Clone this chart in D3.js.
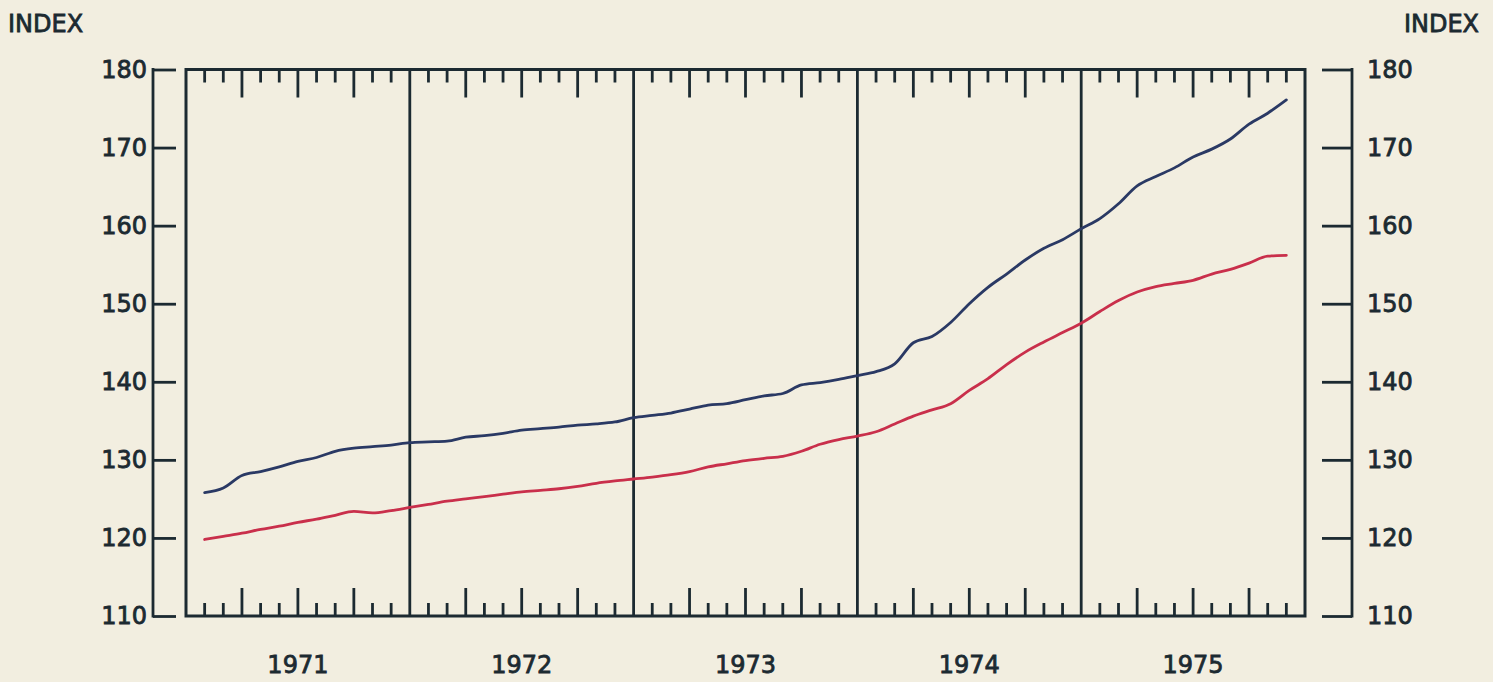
<!DOCTYPE html>
<html>
<head>
<meta charset="utf-8">
<script src="https://cdn.jsdelivr.net/npm/d3@7"></script>
<style>
  html, body { margin: 0; padding: 0; background: #f2eee0; }
  svg { display: block; }
  text { font-family: "DejaVu Sans", sans-serif; fill: #1c2a31; stroke: #1c2a31; stroke-width: 0.8px; }
</style>
</head>
<body>
<svg id="chart" width="1493" height="682"></svg>
<script>
// ---- data (monthly index values, end of Jan 1971 .. end of Nov 1975) ----
const years = ["1971", "1972", "1973", "1974", "1975"];
const yTicks = [110, 120, 130, 140, 150, 160, 170, 180];
const blueSeries = [
  125.8, 126.4, 128.0, 128.5, 129.1, 129.8, 130.3, 131.1, 131.5, 131.7, 131.9, 132.2,
  132.3, 132.4, 132.9, 133.1, 133.4, 133.8, 134.0, 134.2, 134.45, 134.6, 134.85, 135.4,
  135.7, 136.0, 136.5, 137.0, 137.2, 137.7, 138.2, 138.5, 139.6, 139.9, 140.3, 140.8,
  141.3, 142.3, 145.0, 145.8, 147.6, 150.0, 152.1, 153.8, 155.6, 157.1, 158.2, 159.6,
  160.9, 162.8, 165.1, 166.3, 167.4, 168.8, 169.8, 171.1, 173.0, 174.4, 176.1
];
const redSeries = [
  119.8, 120.2, 120.6, 121.1, 121.5, 122.0, 122.4, 122.9, 123.4, 123.2, 123.5, 123.9,
  124.3, 124.7, 125.0, 125.3, 125.6, 125.9, 126.1, 126.3, 126.6, 127.0, 127.3, 127.55,
  127.8, 128.1, 128.5, 129.1, 129.5, 129.9, 130.2, 130.45, 131.1, 132.0, 132.6, 133.05,
  133.6, 134.6, 135.6, 136.4, 137.2, 138.9, 140.4, 142.2, 143.8, 145.1, 146.3, 147.5,
  149.0, 150.4, 151.5, 152.2, 152.6, 153.0, 153.8, 154.4, 155.2, 156.1, 156.2
];

(function () {
  const ink = "#1c2a31";
  const pL = 186, pR = 1305, pT = 69.5, pB = 616;
  const svg = d3.select("#chart");

  const x = d3.scaleLinear().domain([0, years.length * 12]).range([pL, pR]);
  const y = d3.scaleLinear().domain([110, 180]).range([pB, pT]);

  const months = d3.range(1, years.length * 12);
  const minor = months.filter(m => m % 12 !== 0);
  const yearLines = months.filter(m => m % 12 === 0);
  const tickLen = m => (m % 3 === 0 ? 28 : 13);

  const g = svg.append("g");
  g.selectAll("line.tb").data(minor).enter().append("line")
    .attr("x1", d => x(d)).attr("x2", d => x(d))
    .attr("y1", pT).attr("y2", d => pT + tickLen(d))
    .attr("stroke", ink).attr("stroke-width", 2.8);
  g.selectAll("line.bb").data(minor).enter().append("line")
    .attr("x1", d => x(d)).attr("x2", d => x(d))
    .attr("y1", pB).attr("y2", d => pB - tickLen(d))
    .attr("stroke", ink).attr("stroke-width", 2.8);
  g.selectAll("line.yr").data(yearLines).enter().append("line")
    .attr("x1", d => x(d)).attr("x2", d => x(d))
    .attr("y1", pT).attr("y2", pB)
    .attr("stroke", ink).attr("stroke-width", 2.8);

  g.append("rect").attr("x", pL).attr("y", pT)
    .attr("width", pR - pL).attr("height", pB - pT)
    .attr("fill", "none").attr("stroke", ink).attr("stroke-width", 3);

  const line = d3.line().x((d, i) => x(i + 1)).y(d => y(d)).curve(d3.curveMonotoneX);
  svg.append("path").datum(redSeries).attr("d", line)
    .attr("fill", "none").attr("stroke", "#c92f4b").attr("stroke-width", 2.8)
    .attr("stroke-linecap", "round");
  svg.append("path").datum(blueSeries).attr("d", line)
    .attr("fill", "none").attr("stroke", "#2a3964").attr("stroke-width", 2.8)
    .attr("stroke-linecap", "round");

  const fontSpec = sel => sel.style("font-size", "24px")
    .style("font-family", "DejaVu Sans, sans-serif").attr("fill", ink);

  const lAxis = d3.axisLeft(y).tickValues(yTicks).tickSizeInner(23).tickSizeOuter(0).tickPadding(6);
  const la = svg.append("g").attr("transform", "translate(176,0)").call(lAxis);
  la.select(".domain").remove();
  la.selectAll(".tick line").attr("stroke", ink).attr("stroke-width", 2.8);
  la.selectAll(".tick text").call(fontSpec);
  svg.append("line").attr("x1", 153).attr("x2", 153).attr("y1", y(180) - 1.4).attr("y2", y(110) + 1.4)
    .attr("stroke", ink).attr("stroke-width", 2.8);

  const rAxis = d3.axisRight(y).tickValues(yTicks).tickSizeInner(30).tickSizeOuter(0).tickPadding(15);
  const ra = svg.append("g").attr("transform", "translate(1322,0)").call(rAxis);
  ra.select(".domain").remove();
  ra.selectAll(".tick line").attr("stroke", ink).attr("stroke-width", 2.8);
  ra.selectAll(".tick text").call(fontSpec);
  svg.append("line").attr("x1", 1352).attr("x2", 1352).attr("y1", y(180) - 1.4).attr("y2", y(110) + 1.4)
    .attr("stroke", ink).attr("stroke-width", 2.8);

  svg.selectAll("text.year").data(years).enter().append("text")
    .attr("class", "year")
    .attr("x", (d, i) => x(i * 12 + 6)).attr("y", 673)
    .attr("text-anchor", "middle").style("font-size", "24px")
    .text(d => d);

  svg.append("text").attr("x", 8).attr("y", 32).style("font-size", "24px").text("INDEX");
  svg.append("text").attr("x", 1479).attr("y", 32).attr("text-anchor", "end").style("font-size", "24px").text("INDEX");
})();
</script>
</body>
</html>
